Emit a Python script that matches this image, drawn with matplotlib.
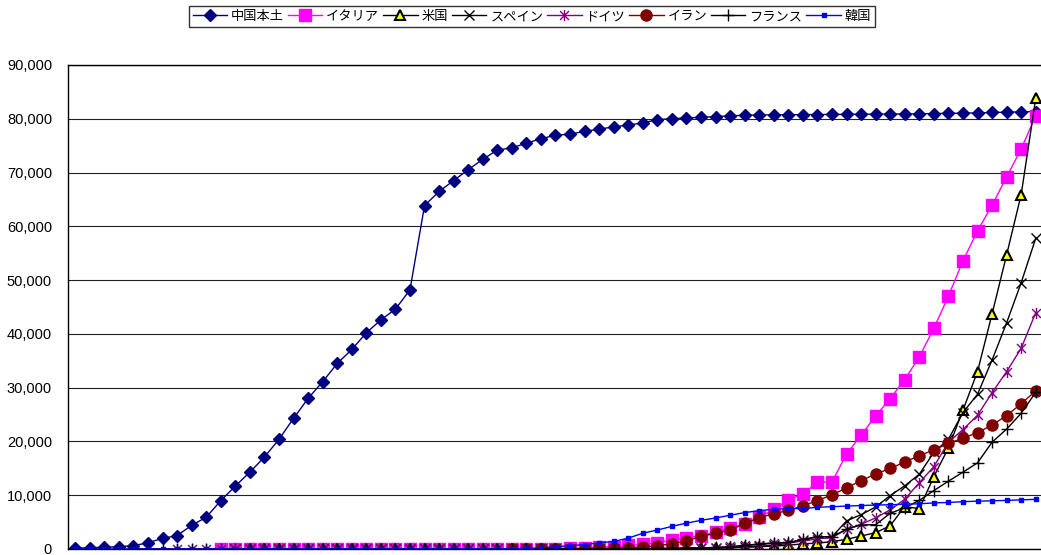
import numpy as np
import matplotlib
matplotlib.use('Agg')
import matplotlib.pyplot as plt
from matplotlib.path import Path
from matplotlib.ticker import FuncFormatter, MultipleLocator

# daily cumulative confirmed cases, one point per day (day 0 = Jan 20)
n_days = 67

china = [130, 240, 320, 440, 610, 1170, 1975, 2500, 4400, 5900,
         9000, 11700, 14300, 17100, 20400, 24300, 28000, 31100, 34500, 37100,
         40200, 42600, 44600, 48200, 63850, 66490, 68500, 70550, 72440, 74190,
         74580, 75470, 76290, 76940, 77150, 77660, 78070, 78500, 78820, 79250,
         79820, 80030, 80150, 80270, 80410, 80550, 80650, 80700, 80740, 80750,
         80780, 80790, 80810, 80820, 80840, 80860, 80880, 80890, 80930, 80970,
         81010, 81050, 81090, 81170, 81220, 81290, 81340]

italy_start = 10
italy = [2] * 8 + [3] * 14 + [
    20, 79, 157, 229, 322, 453, 655, 888, 1128, 1694,
    2036, 2502, 3089, 3858, 4636, 5883, 7375, 9172, 10149, 12462,
    12462, 17660, 21157, 24747, 27980, 31506, 35713, 41035, 47021, 53578,
    59138, 63927, 69176, 74386, 80589]

us_start = 12
us = [8, 8, 11, 11, 12, 12, 12, 12, 12, 12, 13,
      13, 15, 15, 15, 15, 15, 15, 15,
      15, 15, 35, 35, 53,
      53, 59, 60, 62, 68, 75, 100, 124, 158, 221,
      319, 435, 541, 704, 960, 1100, 1360, 1800, 2420, 3030,
      4330, 7900, 7500, 13450, 18800, 25800, 33000, 43700, 54700, 65900,
      83800]

spain_start = 11
spain = [1] * 9 + [2] * 16 + [
    6, 13, 15, 32, 45, 84, 120, 165, 222, 259,
    400, 500, 673, 1073, 1695, 2277, 2277, 5232, 6391, 7798,
    9942, 11748, 13910, 17963, 20410, 25374, 28768, 35136, 42058, 49515,
    57786]

germany_start = 7
germany = [1, 4, 4, 4, 5, 8, 10, 12, 12, 12, 12, 13, 13, 14, 14, 16] + [16] * 13 + [
    17, 27, 46, 48, 79, 130, 159, 196, 262, 482,
    670, 799, 1040, 1176, 1457, 1908, 2078, 3675, 4585, 5795,
    7272, 9257, 12327, 15320, 19848, 22213, 24873, 29056, 32986, 37323,
    43938]

iran_start = 30
iran = [2, 5, 18, 28, 43, 61, 95, 139, 245, 388,
        593, 978, 1501, 2336, 2922, 3513, 4747, 5823, 6566, 7161,
        8042, 9000, 10075, 11364, 12729, 13938, 14991, 16169, 17361, 18407,
        19644, 20610, 21638, 23049, 24811, 27017, 29406]

france_start = 4
france = [2, 3, 3, 3, 4, 5, 5, 5] + [6] * 7 + [11] * 7 + [12] * 10 + [
    14, 18, 38, 57, 100, 130, 191, 204, 288, 380,
    656, 957, 1134, 1217, 1792, 2289, 2289, 3667, 4480, 4513,
    6650, 7652, 9043, 10871, 12612, 14282, 16018, 19856, 22304, 25233,
    29155]

korea = [1, 1, 1, 1, 2, 2, 3, 4, 4, 4,
         6, 11, 12, 15, 15, 16, 19, 23, 24, 24,
         25, 27, 28, 28, 28, 28, 28, 29, 30, 31,
         51, 104, 204, 433, 602, 833, 1146, 1400, 2022, 2931,
         3526, 4212, 4812, 5328, 5766, 6284, 6767, 7134, 7382, 7513,
         7513, 7755, 7869, 7979, 8086, 8162, 8236, 8320, 8413, 8565,
         8652, 8799, 8897, 8961, 9037, 9137, 9241]


def full(start, vals):
    arr = np.full(n_days, np.nan)
    arr[start:start + len(vals)] = vals
    return arr


# asterisk marker like the Excel "star"
star = Path([(-0.8, -0.8), (0.8, 0.8), (-0.8, 0.8), (0.8, -0.8), (0, -1), (0, 1)],
            [Path.MOVETO, Path.LINETO, Path.MOVETO, Path.LINETO, Path.MOVETO, Path.LINETO])

series = [
    ('中国本土', full(0, china), dict(color='#000080', marker='D', ms=6.5, mfc='#000080', mec='#000080')),
    ('イタリア', full(italy_start, italy), dict(color='#FF00FF', marker='s', ms=8, mfc='#FF00FF', mec='#FF00FF')),
    ('米国', full(us_start, us), dict(color='#000000', marker='^', ms=7.5, mfc='#FFFF00', mec='#000000', mew=1.5)),
    ('スペイン', full(spain_start, spain), dict(color='#000000', marker='x', ms=7, mec='#000000', mew=1)),
    ('ドイツ', full(germany_start, germany), dict(color='#800080', marker=star, ms=8, mec='#800080', mew=1)),
    ('イラン', full(iran_start, iran), dict(color='#800000', marker='o', ms=8, mfc='#800000', mec='#800000')),
    ('フランス', full(france_start, france), dict(color='#000000', marker='+', ms=8, mec='#000000', mew=1)),
    ('韓国', full(0, korea), dict(color='#0000FF', marker='s', ms=3.5, mfc='#0000FF', mec='#0000FF')),
]

plt.rcParams['font.family'] = ['Noto Sans CJK JP', 'DejaVu Sans']

fig = plt.figure(figsize=(10.41, 5.55), dpi=100)
ax = fig.add_axes([68 / 1041, 6 / 555, 975 / 1041, 484 / 555])

x = np.arange(n_days)
for name, y, style in series:
    ax.plot(x, y, lw=1, label=name, **style)

ax.set_xlim(-0.5, n_days - 0.5)
ax.set_ylim(0, 90000)
ax.yaxis.set_major_locator(MultipleLocator(10000))
ax.yaxis.set_major_formatter(FuncFormatter(lambda v, p: f'{int(v):,}'))
ax.grid(axis='y', color='#202020', lw=0.8)
ax.set_axisbelow(True)
ax.set_xticks([])
ax.tick_params(axis='y', length=0, pad=11.5)
for lbl in ax.get_yticklabels():
    lbl.set_fontfamily('Liberation Sans')
    lbl.set_fontsize(10.5)
for side in ['left', 'bottom', 'top']:
    ax.spines[side].set_color('black')
    ax.spines[side].set_linewidth(1)
ax.spines['right'].set_visible(False)

leg = fig.legend(loc='center', bbox_to_anchor=(532 / 1041, 1 - 16.5 / 555), ncol=8,
                 fontsize=9.5, frameon=True, fancybox=False, handlelength=2.6,
                 handletextpad=0.3, columnspacing=0.3, borderpad=0.3, numpoints=1)
leg.get_frame().set_edgecolor('black')
leg.get_frame().set_linewidth(1)

fig.savefig('out.png', dpi=100)
